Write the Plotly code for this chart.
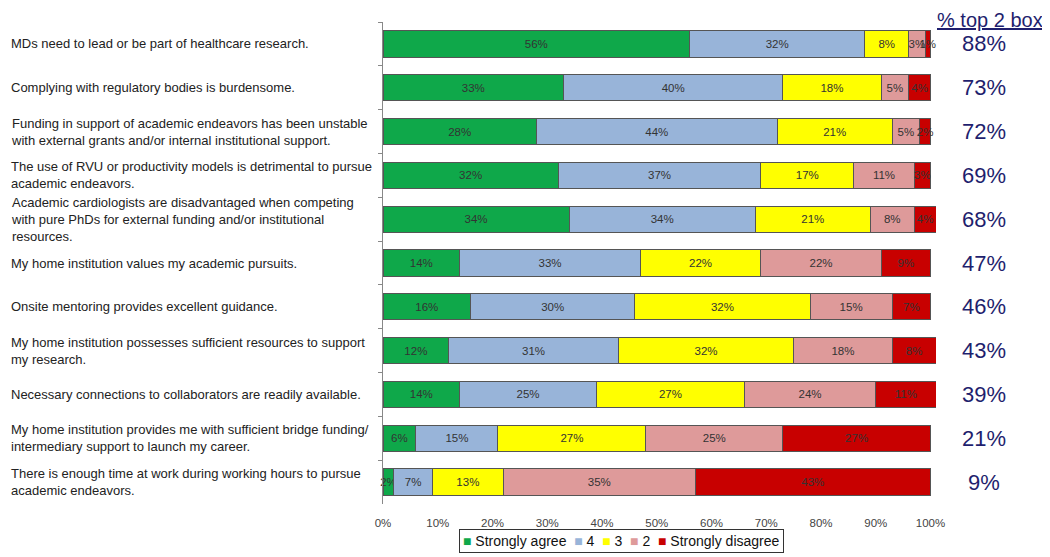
import plotly.graph_objects as go

statements = [
    "MDs need to lead or be part of healthcare research.",
    "Complying with regulatory bodies is burdensome.",
    "Funding in support of academic endeavors has been unstable<br>with external grants and/or internal institutional support.",
    "The use of RVU or productivity models is detrimental to pursue<br>academic endeavors.",
    "Academic cardiologists are disadvantaged when competing<br>with pure PhDs for external funding and/or institutional<br>resources.",
    "My home institution values my academic pursuits.",
    "Onsite mentoring provides excellent guidance.",
    "My home institution possesses sufficient resources to support<br>my research.",
    "Necessary connections to collaborators are readily available.",
    "My home institution provides me with sufficient bridge funding/<br>intermediary support to launch my career.",
    "There is enough time at work during working hours to pursue<br>academic endeavors.",
]
strongly_agree = [56, 33, 28, 32, 34, 14, 16, 12, 14, 6, 2]
four = [32, 40, 44, 37, 34, 33, 30, 31, 25, 15, 7]
three = [8, 18, 21, 17, 21, 22, 32, 32, 27, 27, 13]
two = [3, 5, 5, 11, 8, 22, 15, 18, 24, 25, 35]
strongly_disagree = [1, 4, 2, 3, 4, 9, 7, 8, 11, 27, 43]
series_names = ["Strongly agree", "4", "3", "2", "Strongly disagree"]
tick_vals = [0, 10, 20, 30, 40, 50, 60, 70, 80, 90, 100]
tick_text = [f"{v}%" for v in tick_vals]

colors = ["#0FA84A", "#98B4D9", "#FFFF00", "#DE9A9A", "#C80000"]
cats = [f"s{i}" for i in range(len(statements))]
FONT = "Arial, Liberation Sans, sans-serif"

fig = go.Figure()
all_series = [strongly_agree, four, three, two, strongly_disagree]
for k, (name, vals, col) in enumerate(zip(series_names, all_series, colors)):
    fig.add_trace(go.Bar(
        name=name, y=cats, x=vals, orientation="h",
        marker=dict(color=col, line=dict(color="#555555", width=1)),
        text=[f"{v}%" for v in vals], textposition="inside",
        insidetextanchor="middle", textangle=0,
        constraintext="none", cliponaxis=False,
        textfont=dict(family=FONT, size=11.5, color="#333333"),
        showlegend=False,
    ))

W_FIG, H_FIG = 1042, 549
X_MAX = 101
L, T, B = 375, 14, 53
PW = 548 * X_MAX / 100
R = W_FIG - L - PW
PH = H_FIG - T - B

for c, s in zip(cats, statements):
    fig.add_annotation(
        xref="paper", yref="y", x=-(L - 1) / PW, y=c, text=s,
        xanchor="left", yanchor="middle", align="left", showarrow=False,
        font=dict(family=FONT, size=13, color="#222222"),
    )
for c, a, b in zip(cats, strongly_agree, four):
    fig.add_annotation(
        xref="paper", yref="y", x=(977 - L) / PW, y=c, text=f"{a + b}%",
        xanchor="center", yanchor="middle", showarrow=False,
        font=dict(family=FONT, size=22, color="#1F1F6E"),
    )
fig.add_annotation(
    xref="paper", yref="paper", x=(983 - L) / PW, y=1 + T / PH,
    text="<u>% top 2 box</u>", xanchor="center", yanchor="top",
    showarrow=False, borderpad=0,
    font=dict(family=FONT, size=20, color="#1F1F6E"),
)

legend_parts = []
for name, col in zip(series_names, colors):
    legend_parts.append(f"<span style='color:{col}'>■</span> {name}")
fig.add_annotation(
    xref="paper", yref="paper", x=(614 - L) / PW, y=-37 / PH,
    text="  ".join(legend_parts), xanchor="center", yanchor="middle",
    showarrow=False, bordercolor="#333333", borderwidth=1, borderpad=3,
    bgcolor="white",
    font=dict(family=FONT, size=14, color="#111111"),
)

fig.update_layout(
    barmode="stack", bargap=0.4,
    width=W_FIG, height=H_FIG,
    margin=dict(l=L, r=R, t=T, b=B),
    plot_bgcolor="white", paper_bgcolor="white",
    font=dict(family=FONT),
    uniformtext=dict(minsize=8, mode="show"),
    showlegend=False,
    xaxis=dict(
        range=[0, X_MAX], tickvals=tick_vals, ticktext=tick_text,
        showgrid=False, zeroline=False, showline=False,
        ticks="outside", ticklen=8, tickcolor="rgba(0,0,0,0)",
        tickfont=dict(size=11.5, color="#444444"),
    ),
    yaxis=dict(
        autorange="reversed", showticklabels=False, showgrid=False,
        showline=True, linecolor="#888888", linewidth=1,
        ticks="outside", ticklen=4, tickcolor="#888888", tickson="boundaries",
    ),
)

fig.write_html("out.html")
